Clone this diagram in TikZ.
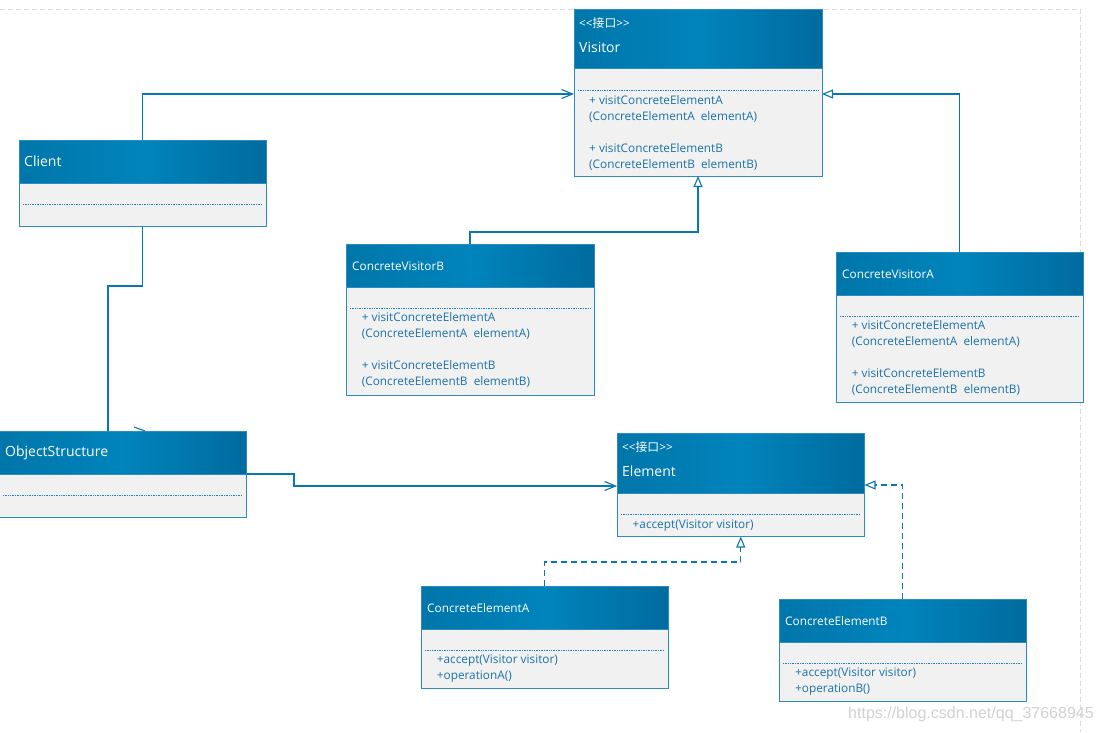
\documentclass[tikz,border=0pt]{standalone}
\usepackage{fontspec}
\setmainfont{Open Sans}[Ligatures=TeXOff]
\newfontfamily\cjk{Noto Sans CJK SC}
\newfontfamily\wmfont{Liberation Sans}
\usetikzlibrary{arrows.meta}
\definecolor{hdrL}{HTML}{0076AA}
\definecolor{hdrM}{HTML}{0084BC}
\definecolor{hdrR}{HTML}{006B9E}
\definecolor{boxline}{HTML}{2E8BC0}
\definecolor{sepcol}{HTML}{1A80BC}
\definecolor{bodyfill}{HTML}{F1F1F1}
\definecolor{bodytext}{HTML}{1A72A8}
\definecolor{conncol}{HTML}{0A78B0}
\definecolor{pagecol}{HTML}{DCDCDC}
\definecolor{wmcol}{HTML}{D2D2D2}
\tikzset{
  hdr/.style={draw=boxline, line width=1pt, left color=hdrL, right color=hdrR, middle color=hdrM, inner sep=0pt, outer sep=0pt},
  bodybox/.style={draw=boxline, line width=1pt, fill=bodyfill, inner sep=0pt, outer sep=0pt},
  sepline/.style={draw=sepcol, line width=0.9pt, dash pattern=on 1pt off 0.7pt},
  ttl/.style={text=white, font=\fontsize{14}{16}\selectfont, inner sep=0pt, anchor=base west},
  stt/.style={text=white, font=\fontsize{11.8}{14}\selectfont, inner sep=0pt, anchor=base west},
  mth/.style={text=bodytext, font=\fontsize{11.8}{14}\selectfont, inner sep=0pt, anchor=base west},
  conn/.style={draw=conncol, line width=1.1pt},
  assoc/.style={conn, -{Straight Barb[length=11pt,width=9pt]}},
  gen/.style={conn, -{Triangle[open,length=11pt,width=9pt,fill=white]}},
  real/.style={gen, dash pattern=on 6pt off 4pt},
  pageline/.style={draw=pagecol, line width=0.8pt, dash pattern=on 5pt off 3pt}
}
% name, x1, y1, x2, y-header-bottom, y2, y-dotted
\newcommand{\umlclass}[7]{%
  \node[hdr, anchor=north west, minimum width={(#4-#2)*1pt}, minimum height={(#5-#3)*1pt}] (#1h) at (#2,#3) {};
  \node[bodybox, anchor=north west, minimum width={(#4-#2)*1pt}, minimum height={(#6-#5)*1pt}] (#1b) at (#2,#5) {};
  \draw[sepline] (#2+4,#7) -- (#4-4,#7);
}
\newcommand{\stereo}{<\kern0pt<{\cjk 接口}>\kern0pt>}
\begin{document}
\begin{tikzpicture}[x=1pt,y=-1pt]
\useasboundingbox (0,0) rectangle (1101,732);
\fill[white] (0,0) rectangle (1101,732);
\draw[pageline] (0,9) -- (1080,9) -- (1080,732);

% classes
\umlclass{v}{574}{9}{822}{68}{176}{90}
\umlclass{c}{19}{140}{266.5}{183}{226.5}{204}
\umlclass{cvb}{346}{244}{594}{287}{395}{308}
\umlclass{cva}{836}{252}{1083.5}{295}{402.5}{316}
\umlclass{os}{-1}{431}{246.5}{474}{517}{495}
\umlclass{e}{617}{433}{864.5}{493}{536.5}{514}
\umlclass{cea}{421}{586}{668.5}{629}{688}{650}
\umlclass{ceb}{779}{599}{1026.5}{642}{701}{663}

% Visitor
\node[stt] (vs) at (579,27.5) {\stereo};
\node[ttl] (vt) at (579,52.5) {Visitor};
\node[mth] (vm1) at (589,104) {+ visitConcreteElementA};
\node[mth] (vm2) at (589,120) {(ConcreteElementA~~elementA)};
\node[mth] (vm3) at (589,152) {+ visitConcreteElementB};
\node[mth] (vm4) at (589,168) {(ConcreteElementB~~elementB)};
% Client
\node[ttl] (ct) at (24,166) {Client};
% ObjectStructure
\node[ttl] (ost) at (5,456.5) {ObjectStructure};
% Element
\node[stt] (es) at (622,451.7) {\stereo};
\node[ttl] (et) at (622,476.5) {Element};
\node[mth] (em1) at (632.5,528.3) {+accept(Visitor visitor)};
% ConcreteVisitorB
\node[stt] (cvbt) at (352,270.5) {ConcreteVisitorB};
\node[mth] (cvbm1) at (361.7,321.7) {+ visitConcreteElementA};
\node[mth] (cvbm2) at (361.7,337.7) {(ConcreteElementA~~elementA)};
\node[mth] (cvbm3) at (361.7,369.7) {+ visitConcreteElementB};
\node[mth] (cvbm4) at (361.7,385.7) {(ConcreteElementB~~elementB)};
% ConcreteVisitorA
\node[stt] (cvat) at (842,278.5) {ConcreteVisitorA};
\node[mth] (cvam1) at (851.7,329.7) {+ visitConcreteElementA};
\node[mth] (cvam2) at (851.7,345.7) {(ConcreteElementA~~elementA)};
\node[mth] (cvam3) at (851.7,377.7) {+ visitConcreteElementB};
\node[mth] (cvam4) at (851.7,393.7) {(ConcreteElementB~~elementB)};
% ConcreteElementA
\node[stt] (ceat) at (427,612.3) {ConcreteElementA};
\node[mth] (ceam1) at (436.7,663.3) {+accept(Visitor visitor)};
\node[mth] (ceam2) at (436.7,679.3) {+operationA()};
% ConcreteElementB
\node[stt] (cebt) at (785,625.7) {ConcreteElementB};
\node[mth] (cebm1) at (795,676.7) {+accept(Visitor visitor)};
\node[mth] (cebm2) at (795,692.7) {+operationB()};

% connectors
\draw[assoc] (ch.north) |- (vb.west |- 0,94);
\draw[gen] (cvah.north) |- (vb.east |- 0,94);
\draw[gen] (cvbh.north) -- (cvbh.north |- 0,232) -| (vb.south);
\draw[conn] (cb.south) -- (cb.south |- 0,286) -| (osh.north -| 108,0);
\draw[conn] (134,427) -- (145,431);
\draw[assoc] (osb.north east) -- (294,474) |- (eb.west |- 0,486);
\draw[real] (ceah.north) -- (ceah.north |- 0,562) -| (eb.south);
\draw[real] (cebh.north) |- (eh.east |- 0,485);

% watermark
\node[text=wmcol, font=\wmfont\fontsize{16}{18}\selectfont, inner sep=0pt, anchor=base west] (wm) at (848,718.5) {https://blog.csdn.net/qq\_37668945};
\end{tikzpicture}
\end{document}
